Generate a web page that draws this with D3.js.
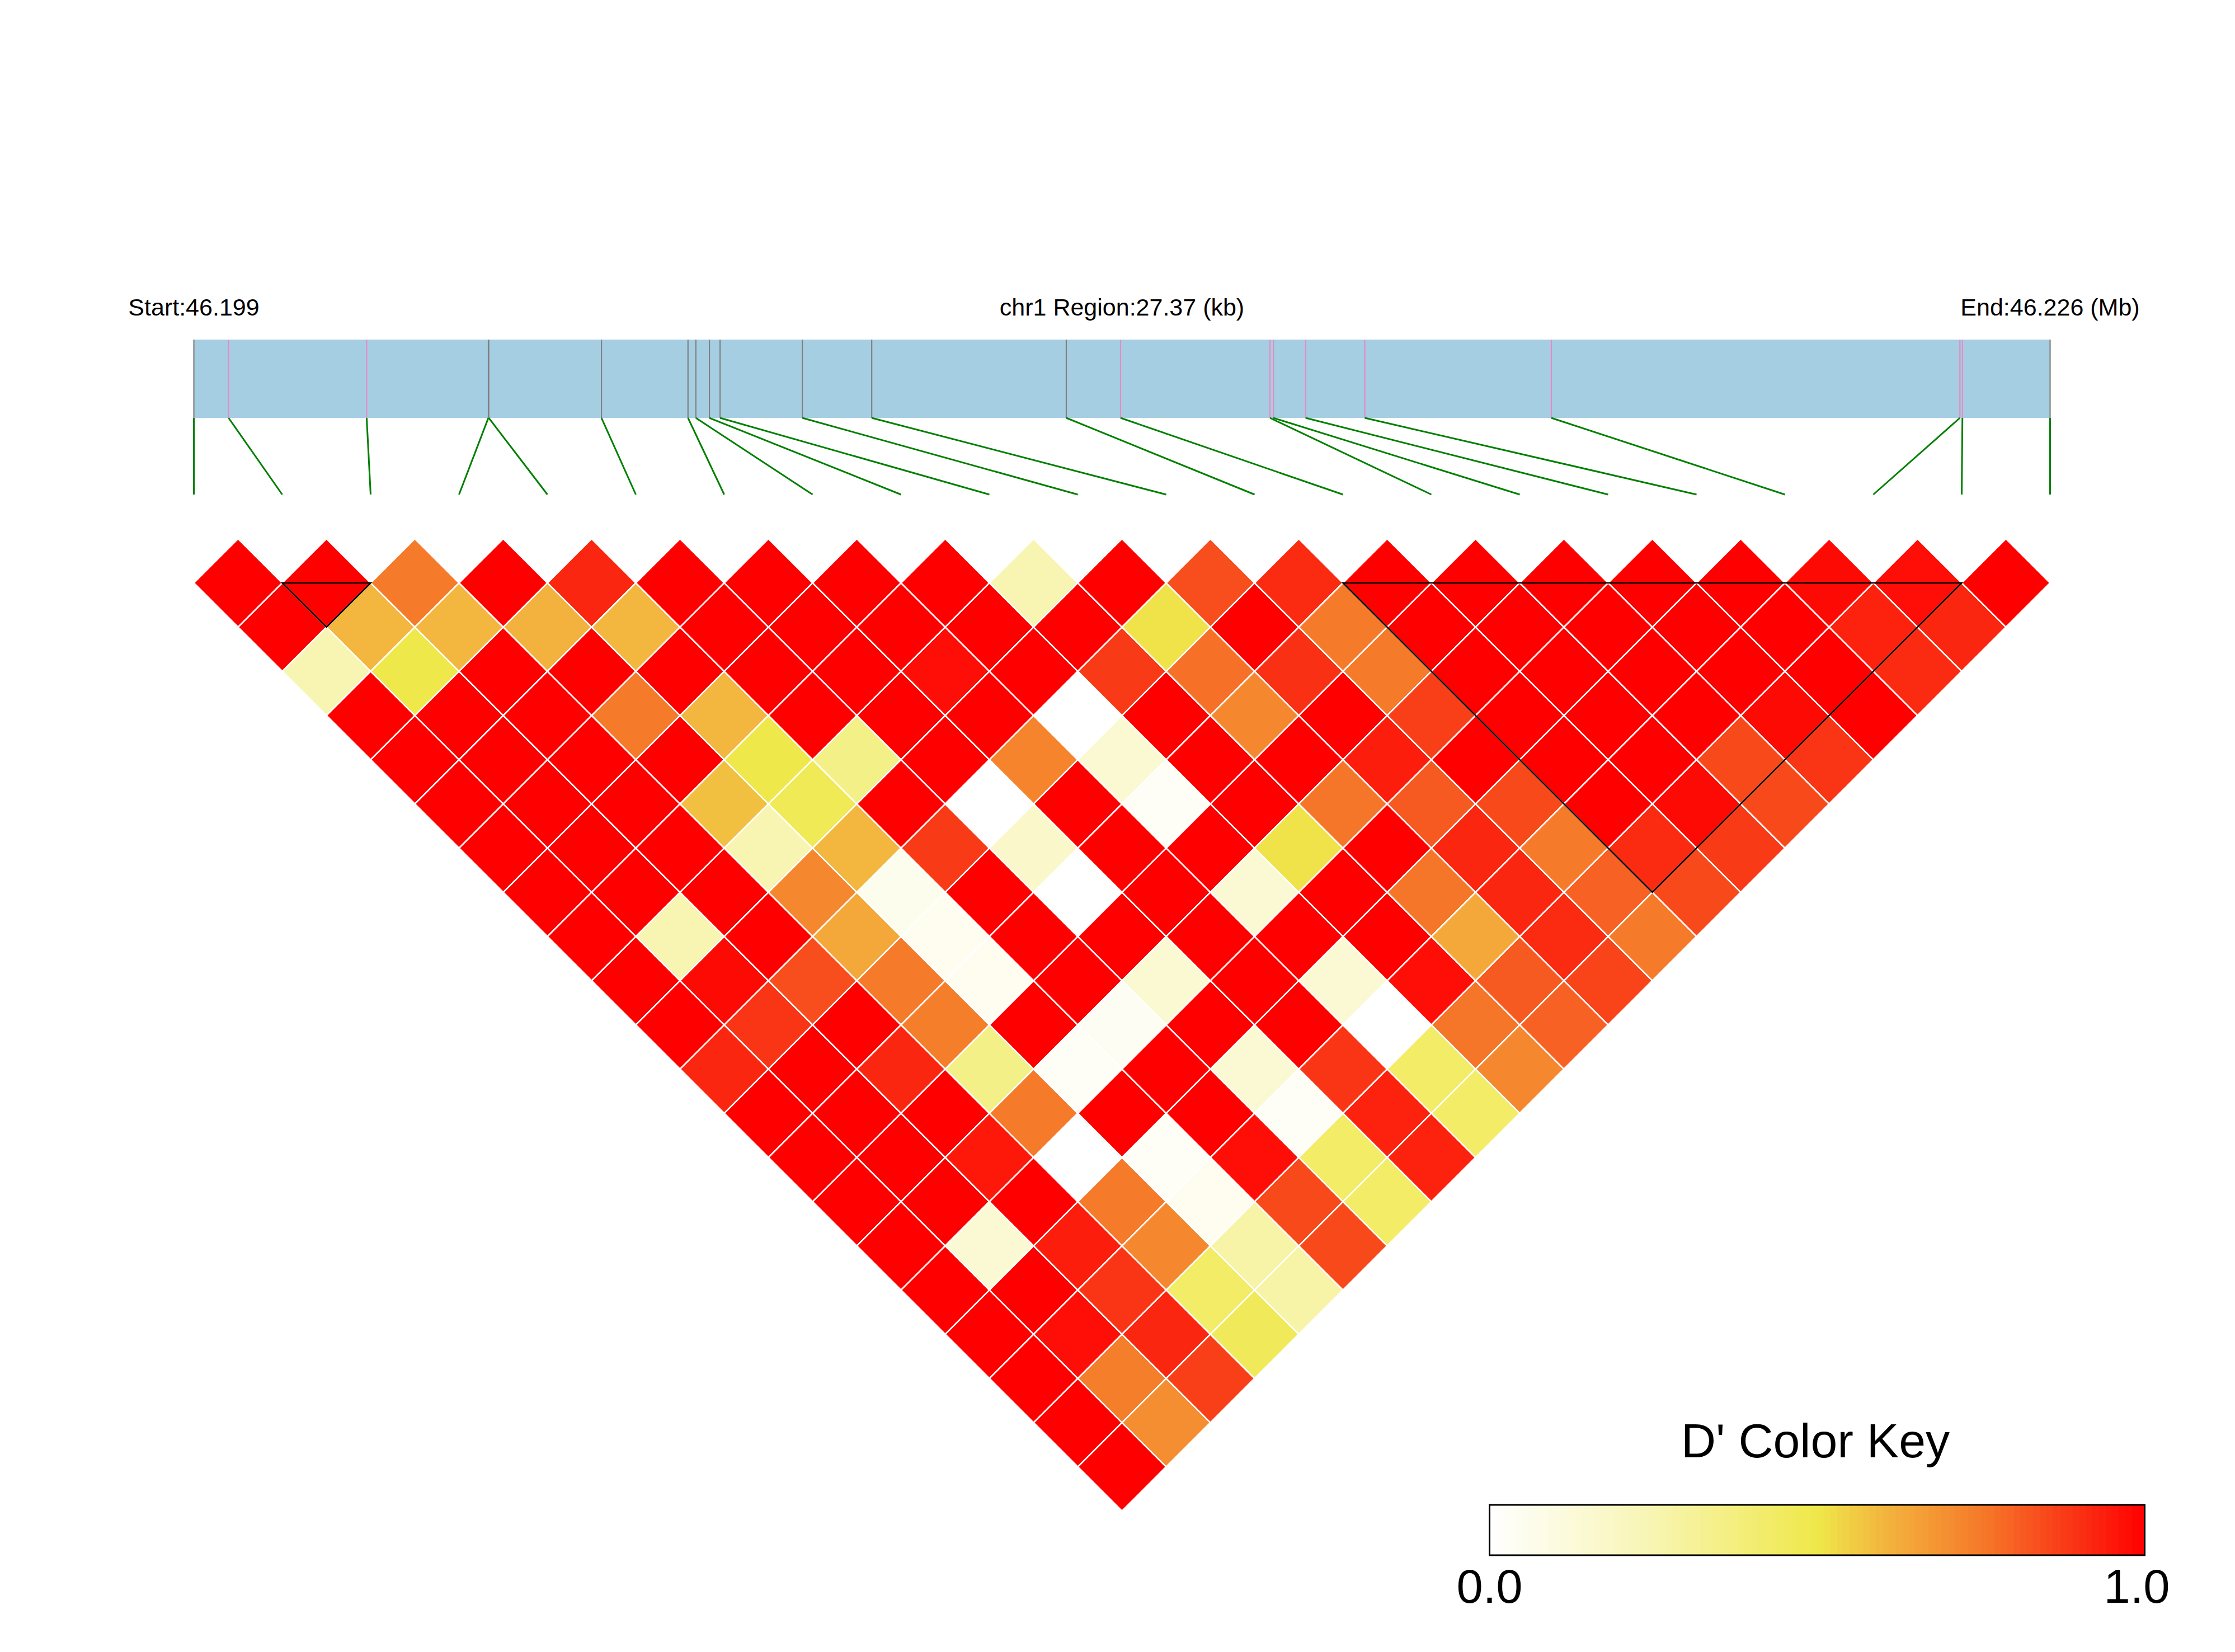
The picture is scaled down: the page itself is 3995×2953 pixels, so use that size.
<!DOCTYPE html>
<html><head><meta charset="utf-8">
<script src="https://cdn.jsdelivr.net/npm/d3@7"></script>
<style>html,body{margin:0;padding:0;background:#fff;} svg{display:block;}</style>
</head><body>
<svg id="chart" width="3995" height="2953"></svg>
<script>
// ---------------- data ----------------
const chromosome = "chr1";
const snpPositions = [46198800, 46199312, 46201348, 46203143, 46203148, 46204810, 46206086, 46206202,
  46206402, 46206559, 46207772, 46208795, 46211664, 46212464, 46214667, 46214717, 46215193, 46216065,
  46218816, 46224840, 46224877, 46226170];
// 0 = grey tick, 1 = pink tick
const snpGroups = [0,1,1,0,0,0,0,0,0,0,0,0,0,1,1,1,1,1,1,1,1,0];
// D' values: dprime[i][k] is the pair (i, i+1+k)
const dprime = [
  [1,1,0.25,1,1,1,1,1,1,1,1,0.92,1,1,1,1,1,1,1,1,1],
  [1,0.6,0.5,1,1,1,1,1,0.25,0.98,0.89,1,1,1,1,0.14,1,0.97,0.74,0.7],
  [0.75,0.6,1,1,1,1,1,1,1,0.84,1,0.92,1,0.95,1,0.94,0.89,0.92,0.87],
  [1,0.61,1,0.75,1,0.58,0.25,0.715,0.635,0.75,0.74,0.35,0.75,0,0.75,0.715,0.43,0.46],
  [0.92,0.6,1,0.6,0.5,0.47,0.6,0.06,0.05,0.05,1,0.03,1,0.03,0.05,0.275,0.275],
  [1,1,1,1,0.35,1,0.88,1,1,1,0.04,1,1,0.97,0.85,0.85],
  [1,1,1,1,1,0,0.17,0,1,0.15,1,0.14,0.03,0.43,0.43],
  [1,1,0.97,1,0.725,1,1,1,1,1,1,0.89,0.93,0.93],
  [1,1,1,0,0.15,0.03,1,0.14,1,0.14,0,0.43,0.43],
  [0.25,1,0.88,1,1,1,0.51,1,1,0.97,0.76,0.715],
  [1,0.51,0.77,0.715,1,0.76,1,0.76,0.635,0.815,0.8],
  [0.84,1,0.9,1,0.94,0.815,0.92,0.92,0.91,0.86],
  [0.91,0.75,0.75,0.87,1,0.85,0.75,0.8,0.75],
  [1,1,1,1,1,1,0.91,0.85],
  [1,1,1,1,1,0.98,0.88],
  [1,1,1,1,0.85,0.85],
  [1,1,1,0.98,0.89],
  [1,1,1,1],
  [0.98,0.93,0.91],
  [0.97,0.92],
  [1]
];
const ldBlocks = [[1,2],[13,20]];
const legendTitle = "D' Color Key";
const legendTicks = [0, 1];
const colorStops = [0, 0.25, 0.5, 0.6, 0.75, 0.9, 1];

// ---------------- layout ----------------
const svg = d3.select("#chart");
const n = snpPositions.length;
const X0 = 346.5, X1 = 3664.5;
const barTop = 607, barBottom = 747, lineBottom = 884;
const row1Y = 1042;
const font = "'Liberation Sans', Arial, Helvetica, sans-serif";

const color = d3.scaleLinear().domain(colorStops)
  .range(["#ffffff", "#f8f5b2", "#efe84a", "#f3b63e", "#f57a2a", "#fa3014", "#ff0000"])
  .interpolate(d3.interpolateRgb).clamp(true);

const xGen = d3.scaleLinear().domain([snpPositions[0], snpPositions[n - 1]]).range([X0, X1]);
const xSnp = d3.scalePoint().domain(d3.range(n)).range([X0, X1]);
const step = xSnp.step();
const h = step / 2;
const yRow = d3.scaleLinear().domain([1, n - 1]).range([row1Y, row1Y + (n - 2) * h]);

// ---------------- header text ----------------
const start = snpPositions[0], end = snpPositions[n - 1];
const headers = [
  {x: X0, t: "Start:" + d3.format(".3f")(start / 1e6)},
  {x: (X0 + X1) / 2, t: chromosome + " Region:" + d3.format(".2f")((end - start) / 1000) + " (kb)"},
  {x: X1, t: "End:" + d3.format(".3f")(end / 1e6) + " (Mb)"}
];
svg.append("g").selectAll("text").data(headers).join("text")
  .attr("x", d => d.x).attr("y", 564)
  .attr("text-anchor", "middle")
  .attr("font-family", font).attr("font-size", 43).attr("fill", "#000")
  .text(d => d.t);

// ---------------- gene track ----------------
svg.append("rect").attr("x", X0).attr("y", barTop)
  .attr("width", X1 - X0).attr("height", barBottom - barTop)
  .attr("fill", "#a6cee3");
svg.append("g").selectAll("line").data(snpPositions).join("line")
  .attr("x1", d => xGen(d)).attr("x2", d => xGen(d))
  .attr("y1", barTop).attr("y2", barBottom)
  .attr("stroke", (d, i) => snpGroups[i] ? "#e78ac3" : "#808080")
  .attr("stroke-width", 2.2);
svg.append("g").selectAll("line").data(snpPositions).join("line")
  .attr("x1", d => xGen(d)).attr("y1", barBottom)
  .attr("x2", (d, i) => xSnp(i)).attr("y2", lineBottom)
  .attr("stroke", "#008000").attr("stroke-width", 3);

// ---------------- heatmap ----------------
const cells = [];
dprime.forEach((row, i) => row.forEach((v, k) => cells.push({i, j: i + 1 + k, v})));
svg.append("g").selectAll("polygon").data(cells).join("polygon")
  .attr("points", d => {
    const cx = (xSnp(d.i) + xSnp(d.j)) / 2;
    const cy = yRow(d.j - d.i);
    return [[cx, cy - h], [cx + h, cy], [cx, cy + h], [cx - h, cy]].map(p => p.join(",")).join(" ");
  })
  .attr("fill", d => color(d.v))
  .attr("stroke", "#ffffff").attr("stroke-width", 2.5);

// ---------------- LD blocks ----------------
svg.append("g").selectAll("path").data(ldBlocks).join("path")
  .attr("d", d => {
    const a = xSnp(d[0]), b = xSnp(d[1]);
    return `M${a},${row1Y}L${b},${row1Y}L${(a + b) / 2},${row1Y + (b - a) / 2}Z`;
  })
  .attr("fill", "none").attr("stroke", "#000").attr("stroke-width", 2.6);

// ---------------- legend ----------------
const LX0 = 2662.5, LX1 = 3833.5, LY0 = 2690, LY1 = 2780;
const xLeg = d3.scaleLinear().domain([0, 1]).range([LX0, LX1]);
const nSteps = 100;
svg.append("g").selectAll("rect").data(d3.range(nSteps)).join("rect")
  .attr("x", d => xLeg(d / nSteps)).attr("y", LY0)
  .attr("width", (LX1 - LX0) / nSteps + 0.6).attr("height", LY1 - LY0)
  .attr("fill", d => color((d + 0.5) / nSteps));
svg.append("rect").attr("x", LX0).attr("y", LY0)
  .attr("width", LX1 - LX0).attr("height", LY1 - LY0)
  .attr("fill", "none").attr("stroke", "#000").attr("stroke-width", 3);
svg.append("text").attr("x", 3245).attr("y", 2605)
  .attr("text-anchor", "middle").attr("font-family", font).attr("font-size", 86)
  .text(legendTitle);
svg.append("g").selectAll("text").data(legendTicks).join("text")
  .attr("x", d => d === 0 ? xLeg(d) : xLeg(d) - 14).attr("y", 2865)
  .attr("text-anchor", "middle").attr("font-family", font).attr("font-size", 85)
  .text(d => d3.format(".1f")(d));
</script>
</body></html>
